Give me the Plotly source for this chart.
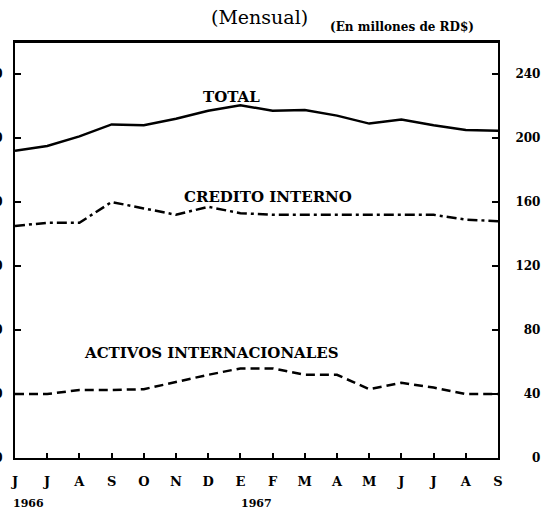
import plotly.graph_objects as go

months = ["J", "J", "A", "S", "O", "N", "D", "E", "F", "M", "A", "M", "J", "J", "A", "S"]
total = [192, 195, 201, 208.5, 208, 212, 217, 220.5, 217, 217.5, 214, 209, 211.5, 208, 205, 204.5]
credito = [145, 147, 147, 160, 156, 152, 157, 153, 152, 152, 152, 152, 152, 152, 149, 148]
activos = [40, 40, 42.5, 42.5, 43, 47.5, 52, 56, 56, 52, 52, 43, 47, 44, 40, 40]
y_ticks = [0, 40, 80, 120, 160, 200, 240]
y_ticktext_right = ["\u2007\u20070", "\u200740", "\u200780", "120", "160", "200", "240"]

x = list(range(len(months)))
serif = "DejaVu Serif"
W, H = 542, 511
ML, MR, MT, MB = 15, 44, 42, 53

fig = go.Figure()
fig.add_trace(go.Scatter(x=x, y=total, mode="lines", line=dict(color="black", width=2.5),
                         showlegend=False, hoverinfo="skip"))
fig.add_trace(go.Scatter(x=x, y=credito, mode="lines",
                         line=dict(color="black", width=2.5, dash="10px,4px,3px,4px"),
                         showlegend=False, hoverinfo="skip"))
fig.add_trace(go.Scatter(x=x, y=activos, mode="lines",
                         line=dict(color="black", width=2.5, dash="9px,5px"),
                         showlegend=False, hoverinfo="skip"))
fig.add_trace(go.Scatter(x=x, y=total, mode="lines", line=dict(width=0), opacity=0,
                         yaxis="y2", showlegend=False, hoverinfo="skip"))

fig.update_layout(
    width=W, height=H,
    margin=dict(l=ML, r=MR, t=MT, b=MB),
    paper_bgcolor="white", plot_bgcolor="white",
    font=dict(family=serif, color="black"),
    xaxis=dict(range=[0, 15], tickvals=x, ticktext=months, ticks="inside", ticklen=5,
               tickwidth=2, tickcolor="black", showline=True, linecolor="black", linewidth=2,
               mirror=True, showgrid=False, zeroline=False, automargin=False,
               ticklabelstandoff=10,
               tickfont=dict(family=serif, size=13, color="black", weight="bold")),
    yaxis=dict(range=[0, 260], tickvals=y_ticks, ticks="inside", ticklen=6, tickwidth=2,
               tickcolor="black", showline=True, linecolor="black", linewidth=2,
               showgrid=False, zeroline=False, automargin=False, ticklabelstandoff=8,
               tickfont=dict(family=serif, size=12, color="black", weight="bold")),
    yaxis2=dict(range=[0, 260], overlaying="y", side="right", tickvals=y_ticks,
                ticktext=y_ticktext_right, ticks="inside", ticklen=6, tickwidth=2,
                tickcolor="black", showline=True, linecolor="black", linewidth=2,
                showgrid=False, zeroline=False, automargin=False, ticklabelstandoff=13,
                tickfont=dict(family=serif, size=12, color="black", weight="bold")),
)

# top border of the frame
fig.add_shape(type="line", xref="paper", yref="paper", x0=0, x1=1, y0=1, y1=1,
              line=dict(color="black", width=2))

# text placed at figure pixel positions (converted to plot-area paper coords)
annos = [
    dict(x=231, y=97, text="TOTAL", size=15, bold=True),
    dict(x=268, y=197, text="CREDITO INTERNO", size=15, bold=True),
    dict(x=211, y=353, text="ACTIVOS INTERNACIONALES", size=15, bold=True),
    dict(x=259, y=17, text="(Mensual)", size=19, bold=False),
    dict(x=402, y=27, text="(En millones de RD$)", size=12, bold=True),
    dict(x=28, y=503, text="1966", size=11, bold=True),
    dict(x=256, y=503, text="1967", size=11, bold=True),
]
pw, ph = W - ML - MR, H - MT - MB
for a in annos:
    fig.add_annotation(
        x=(a["x"] - ML) / pw, y=1 - (a["y"] - MT) / ph, xref="paper", yref="paper",
        xanchor="center", yanchor="middle", showarrow=False, text=a["text"],
        font=dict(family=serif, size=a["size"], color="black",
                  weight="bold" if a["bold"] else "normal"),
    )

fig.write_html("out.html", config={"displayModeBar": False},
               post_script="document.body.style.margin='0';")
